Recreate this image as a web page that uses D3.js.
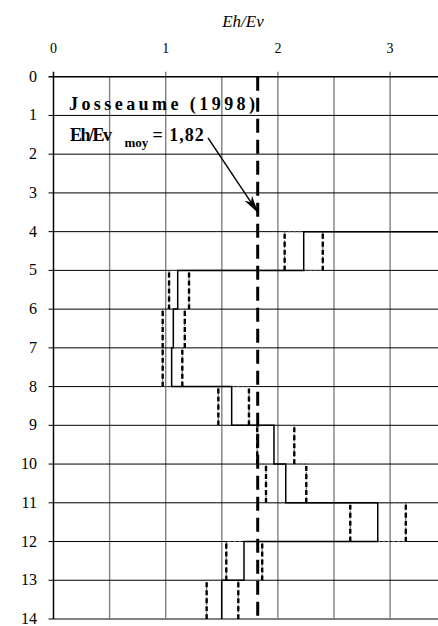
<!DOCTYPE html>
<html>
<head>
<meta charset="utf-8">
<script src="https://cdn.jsdelivr.net/npm/d3@7"></script>
<style>
  body { margin: 0; background: #fff; }
</style>
</head>
<body>
<div id="chart"></div>
<script>
// Profondeurs des limites de couches (m)
const depths = [0, 4, 5, 6, 7, 8, 9, 10, 11, 12, 13, 14];
// Eh/Ev par couche : moyenne et bornes (la première couche sort du graphique)
const ratioMean = [4.6, 2.23, 1.107, 1.068, 1.053, 1.588, 1.965, 2.07, 2.89, 1.698, 1.499];
const ratioLow  = [4.3, 2.06, 1.03, 0.973, 0.973, 1.469, 1.816, 1.894, 2.645, 1.54, 1.365];
const ratioHigh = [4.9, 2.40, 1.208, 1.17, 1.148, 1.742, 2.146, 2.253, 3.14, 1.86, 1.647];
const meanRatio = 1.82;
const xTicks = [0, 1, 2, 3];
const xGrid = [0.5, 1, 1.5, 2, 2.5, 3];
const yTicks = d3.range(0, 15);
// flèche : du texte vers la ligne moyenne
const arrowFrom = [1.377, 1.58];
const arrowTo = [1.82, 3.5];

const width = 438, height = 626;
const serif = "'Liberation Serif', 'DejaVu Serif', 'Times New Roman', serif";
const svg = d3.select('#chart').append('svg')
  .attr('width', width)
  .attr('height', height)
  .style('display', 'block')
  .attr('font-family', serif);

const x = d3.scaleLinear().domain([0, 3.5]).range([53.5, 446.2]);
const y = d3.scaleLinear().domain([0, 14]).range([76.7, 619]);

// grille verticale (grise)
svg.append('g').selectAll('line')
  .data(xGrid)
  .enter().append('line')
  .attr('x1', d => x(d)).attr('x2', d => x(d))
  .attr('y1', d => Number.isInteger(d) ? y(0) - 5 : y(0))
  .attr('y2', y(14))
  .attr('stroke', '#808080')
  .attr('stroke-width', 1.4);

// grille horizontale
svg.append('g').selectAll('line')
  .data(yTicks.filter(d => d < 14))
  .enter().append('line')
  .attr('x1', x(0) - 5).attr('x2', width)
  .attr('y1', d => y(d)).attr('y2', d => y(d))
  .attr('stroke', '#000')
  .attr('stroke-width', d => d === 0 ? 1.5 : 1);

// ligne du bas
svg.append('line')
  .attr('x1', x(0)).attr('x2', width)
  .attr('y1', y(14)).attr('y2', y(14))
  .attr('stroke', '#808080').attr('stroke-width', 2);
svg.append('line')
  .attr('x1', x(0) - 5).attr('x2', x(0))
  .attr('y1', y(14)).attr('y2', y(14))
  .attr('stroke', '#000').attr('stroke-width', 1);

// axe de gauche
svg.append('line')
  .attr('x1', x(0)).attr('x2', x(0))
  .attr('y1', y(0) - 5).attr('y2', y(14))
  .attr('stroke', '#000').attr('stroke-width', 1.5);

// étiquettes
svg.append('g').selectAll('text')
  .data(xTicks)
  .enter().append('text')
  .attr('x', d => x(d)).attr('y', 53)
  .attr('text-anchor', 'middle')
  .attr('font-size', '14px')
  .text(d => d);

svg.append('g').selectAll('text')
  .data(yTicks)
  .enter().append('text')
  .attr('x', 37).attr('y', d => y(d) + 5)
  .attr('text-anchor', 'end')
  .attr('font-size', '16px')
  .text(d => d);

svg.append('text')
  .attr('x', 243).attr('y', 27)
  .attr('text-anchor', 'middle')
  .attr('font-size', '17px')
  .attr('font-style', 'italic')
  .text('Eh/Ev');

// courbes en escalier
svg.append('clipPath').attr('id', 'plot')
  .append('rect')
  .attr('x', x(0)).attr('y', y(0))
  .attr('width', width - x(0)).attr('height', y(14) - y(0));

function steps(vals) {
  const pts = [];
  vals.forEach((v, i) => {
    pts.push([v, depths[i]]);
    pts.push([v, depths[i + 1]]);
  });
  return pts;
}
const line = d3.line().x(d => x(d[0])).y(d => y(d[1]));
const plot = svg.append('g').attr('clip-path', 'url(#plot)');

// bornes : traits fins pour les paliers, pointillés épais pour les verticales
[ratioLow, ratioHigh].forEach(vals => {
  plot.append('path')
    .attr('d', line(steps(vals)))
    .attr('fill', 'none')
    .attr('stroke', '#555')
    .attr('stroke-width', 1)
    .attr('stroke-dasharray', '3,2');
  plot.append('g').selectAll('line')
    .data(vals)
    .enter().append('line')
    .attr('x1', d => x(d)).attr('x2', d => x(d))
    .attr('y1', (d, i) => y(depths[i]) + 2)
    .attr('y2', (d, i) => y(depths[i + 1]))
    .attr('stroke', '#000')
    .attr('stroke-width', 2.4)
    .attr('stroke-dasharray', '5,3');
});

plot.append('path')
  .attr('d', line(steps(ratioMean)))
  .attr('fill', 'none')
  .attr('stroke', '#000')
  .attr('stroke-width', 1.5);

// moyenne
svg.append('line')
  .attr('x1', x(meanRatio)).attr('x2', x(meanRatio))
  .attr('y1', y(0)).attr('y2', y(14))
  .attr('stroke', '#000')
  .attr('stroke-width', 3)
  .attr('stroke-dasharray', '14,7');

// annotation
svg.append('text')
  .attr('x', 69).attr('y', 110)
  .attr('font-size', '18px')
  .attr('font-weight', 'bold')
  .attr('textLength', 186)
  .attr('lengthAdjust', 'spacing')
  .text('Josseaume  (1998)');

const t = svg.append('text')
  .attr('x', 70).attr('y', 141)
  .attr('font-size', '18px')
  .attr('font-weight', 'bold');
t.append('tspan').attr('letter-spacing', '-1.5').text('Eh/Ev');
t.append('tspan').attr('font-size', '13px').attr('dx', 14).attr('dy', 6).text('moy');
t.append('tspan').attr('dx', 4).attr('dy', -6).attr('letter-spacing', '1').text('= 1,82');

svg.append('defs').append('marker')
  .attr('id', 'arrow')
  .attr('viewBox', '0 -5 18 10')
  .attr('refX', 17).attr('refY', 0)
  .attr('markerWidth', 18).attr('markerHeight', 10)
  .attr('markerUnits', 'userSpaceOnUse')
  .attr('orient', 'auto')
  .append('path')
  .attr('d', 'M0,-4.5L18,0L0,4.5L5,0Z')
  .attr('fill', '#000');

svg.append('line')
  .attr('x1', x(arrowFrom[0])).attr('y1', y(arrowFrom[1]))
  .attr('x2', x(arrowTo[0])).attr('y2', y(arrowTo[1]))
  .attr('stroke', '#000')
  .attr('stroke-width', 1.5)
  .attr('marker-end', 'url(#arrow)');
</script>
</body>
</html>
